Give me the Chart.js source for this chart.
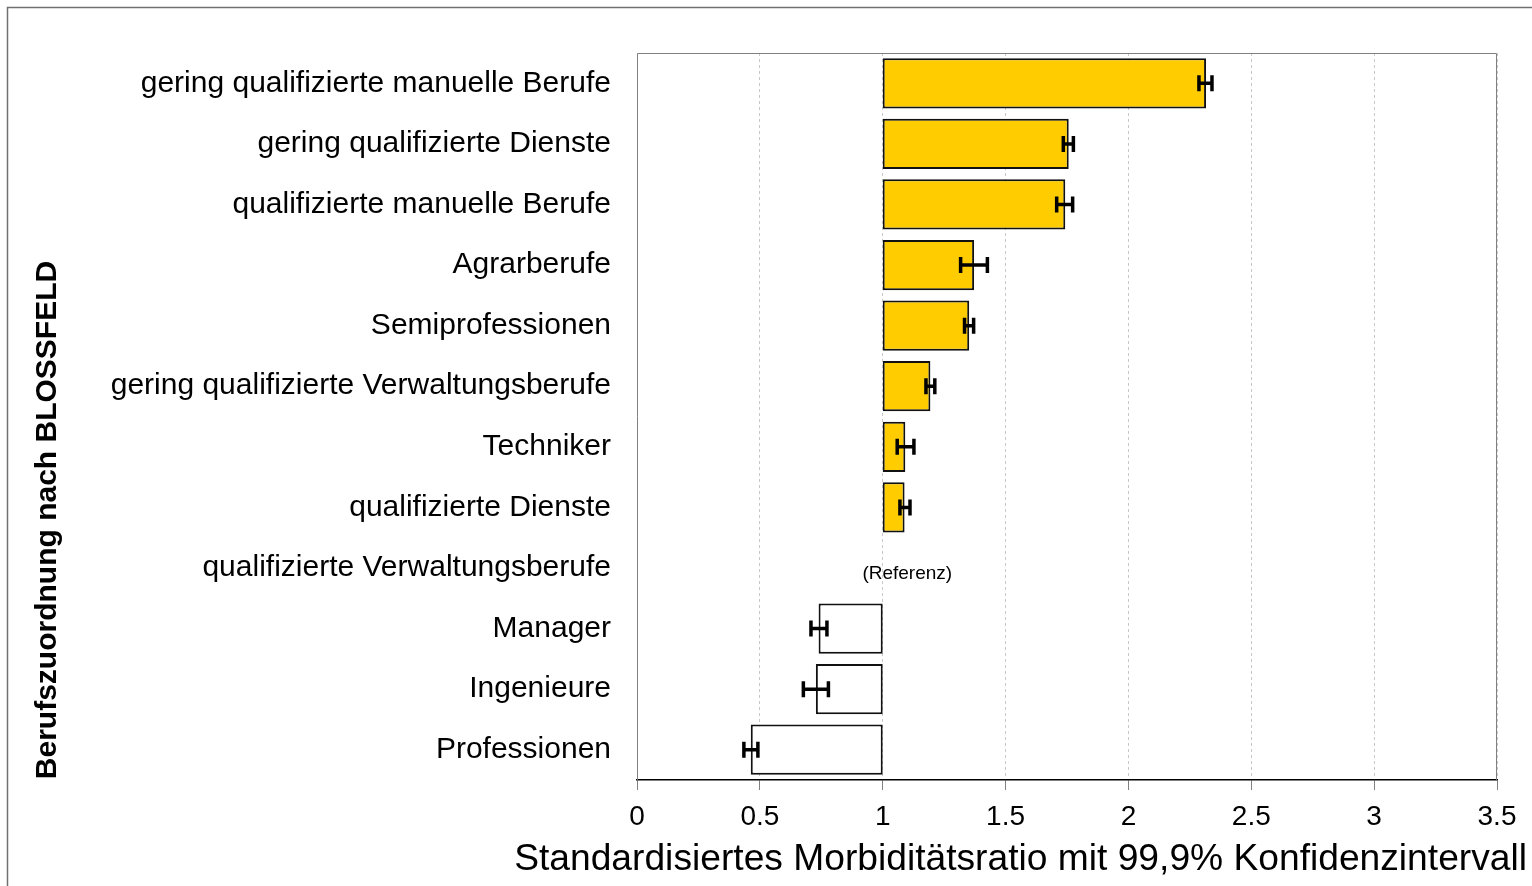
<!DOCTYPE html>
<html lang="de">
<head>
  <meta charset="UTF-8">
  <title>SMR nach Berufsgruppe</title>
  <script src="https://cdn.jsdelivr.net/npm/chart.js"></script>
  <style>
    body {
      margin: 0;
      background: white;
      font-family: 'Liberation Sans', Arial, sans-serif;
    }
    #wrap {
      width: 1532px;
      height: 886px;
    }
  </style>
</head>
<body>
  <div id="wrap"><canvas id="smrChart" width="1532" height="886"></canvas></div>

  <script>
    const categories = [
      'gering qualifizierte manuelle Berufe',
      'gering qualifizierte Dienste',
      'qualifizierte manuelle Berufe',
      'Agrarberufe',
      'Semiprofessionen',
      'gering qualifizierte Verwaltungsberufe',
      'Techniker',
      'qualifizierte Dienste',
      'qualifizierte Verwaltungsberufe',
      'Manager',
      'Ingenieure',
      'Professionen'
    ];
    // SMR point estimates, reference group has none
    const smr    = [2.316, 1.757, 1.743, 1.372, 1.352, 1.194, 1.092, 1.089, null, 0.739, 0.728, 0.463];
    const ciLow  = [2.287, 1.735, 1.708, 1.317, 1.333, 1.176, 1.059, 1.070, null, 0.708, 0.677, 0.435];
    const ciHigh = [2.340, 1.776, 1.773, 1.426, 1.370, 1.212, 1.127, 1.111, null, 0.773, 0.779, 0.492];
    const baseline = 1;
    const referenceIndex = 8;
    const referenceLabel = '(Referenz)';
    const xTitle = 'Standardisiertes Morbiditätsratio mit 99,9% Konfidenzintervall';
    const yTitle = 'Berufszuordnung nach BLOSSFELD';

    const FONT = "'Liberation Sans', Arial, sans-serif";

    // error bars, reference label, axis titles and frame
    const extras = {
      id: 'extras',
      afterDatasetsDraw(chart) {
        const c = chart.ctx;
        const xs = chart.scales.x, ys = chart.scales.y;
        const area = chart.chartArea;

        // plot frame (top, left, right) in gray
        c.save();
        c.strokeStyle = '#808080';
        c.lineWidth = 1;
        c.beginPath();
        c.moveTo(area.left + 0.5, area.bottom);
        c.lineTo(area.left + 0.5, area.top + 0.5);
        c.lineTo(area.right - 0.5, area.top + 0.5);
        c.lineTo(area.right - 0.5, area.bottom);
        c.stroke();
        c.restore();

        // error bars
        c.save();
        c.strokeStyle = 'black';
        c.lineWidth = 3.5;
        for (let i = 0; i < categories.length; i++) {
          if (ciLow[i] == null) continue;
          const y = ys.getPixelForValue(i);
          const x1 = xs.getPixelForValue(ciLow[i]);
          const x2 = xs.getPixelForValue(ciHigh[i]);
          c.beginPath();
          c.moveTo(x1, y); c.lineTo(x2, y);
          c.moveTo(x1, y - 8); c.lineTo(x1, y + 8);
          c.moveTo(x2, y - 8); c.lineTo(x2, y + 8);
          c.stroke();
        }
        c.restore();

        // reference label
        c.save();
        c.fillStyle = 'black';
        c.font = '19px ' + FONT;
        c.textAlign = 'center';
        c.textBaseline = 'middle';
        c.fillText(referenceLabel, xs.getPixelForValue(baseline + 0.1), ys.getPixelForValue(referenceIndex) + 6);
        c.restore();
      },
      afterDraw(chart) {
        const c = chart.ctx;
        c.save();
        // outer frame (only top/left visible)
        c.strokeStyle = '#707070';
        c.lineWidth = 1.5;
        c.beginPath();
        c.moveTo(7.5, 900);
        c.lineTo(7.5, 7.5);
        c.lineTo(1540, 7.5);
        c.stroke();

        c.fillStyle = 'black';
        c.font = '37.2px ' + FONT;
        c.textAlign = 'right';
        c.textBaseline = 'middle';
        c.fillText(xTitle, 1527, 860);

        c.translate(48, 520);
        c.rotate(-Math.PI / 2);
        c.font = 'bold 30px ' + FONT;
        c.textAlign = 'center';
        c.fillText(yTitle, 0, 0);
        c.restore();
      }
    };

    const ctx = document.getElementById('smrChart').getContext('2d');
    const chart = new Chart(ctx, {
      type: 'bar',
      data: {
        labels: categories,
        datasets: [{
          data: smr.map(v => v == null ? null : [baseline, v]),
          backgroundColor: smr.map(v => v != null && v > baseline ? '#FFCC00' : 'white'),
          borderColor: '#111',
          borderWidth: 2,
          borderSkipped: false,
          categoryPercentage: 1,
          barPercentage: 0.83
        }]
      },
      options: {
        indexAxis: 'y',
        responsive: false,
        animation: false,
        layout: { padding: { top: 53, right: 35, left: 0, bottom: 0 } },
        plugins: {
          legend: { display: false },
          tooltip: { enabled: false }
        },
        scales: {
          x: {
            min: 0,
            max: 3.5,
            afterFit(scale) { scale.height = 106; },
            ticks: {
              stepSize: 0.5,
              color: 'black',
              padding: 10,
              font: { family: FONT, size: 28 },
              callback: v => String(v)
            },
            grid: {
              color: '#c8c8c8',
              tickColor: '#808080',
              tickLength: 10,
              tickBorderDash: [],
              lineWidth: 1
            },
            border: { color: 'black', width: 1.5, dash: [3, 3] }
          },
          y: {
            afterFit(scale) { scale.width = 637; },
            ticks: {
              color: 'black',
              padding: 26,
              font: { family: FONT, size: 30 }
            },
            grid: { display: false, drawTicks: false },
            border: { display: false }
          }
        }
      },
      plugins: [extras]
    });
  </script>
</body>
</html>
